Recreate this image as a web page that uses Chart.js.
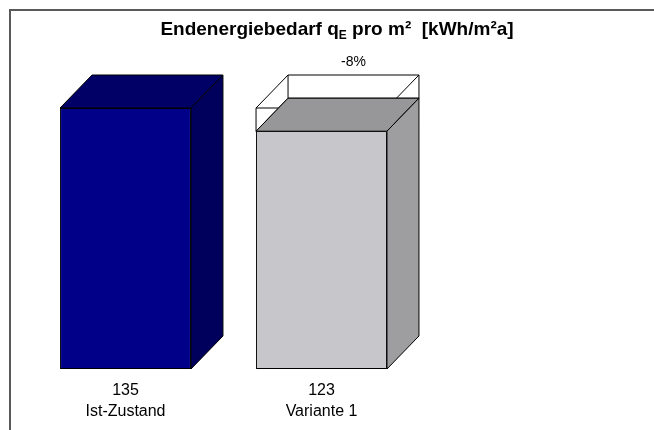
<!DOCTYPE html>
<html>
<head>
<meta charset="utf-8">
<script src="https://cdn.jsdelivr.net/npm/chart.js@4/dist/chart.umd.min.js"></script>
<style>
  body { margin: 0; background: #fff; }
  #wrap { position: relative; width: 654px; height: 430px; overflow: hidden; }
  #frame { position: absolute; left: 9px; top: 9px; width: 700px; height: 500px;
           border-left: 2px solid #595959; border-top: 2px solid #595959; }
  canvas { position: absolute; left: 0; top: 0; }
</style>
</head>
<body>
<div id="wrap">
  <div id="frame"></div>
  <canvas id="energyChart" width="654" height="430"></canvas>
</div>
<script>
// Daten
const categories = ['Ist-Zustand', 'Variante 1'];
const demandValues = [135, 123];
const savingValues = [0, 12];      // Differenz zum Ist-Zustand, nur als Umriss
const changeLabels = ['', '-8%'];

const frontColors = ['#000088', '#c7c6ca'];
const topColors = ['#000066', '#979698'];
const sideColors = ['#00005c', '#9e9da0'];

// Tiefe der 3D-Saeulen
const DX = 32;
const DY = 33;
const FONT = '"Liberation Sans", Arial, sans-serif';

function poly(c, pts, fill) {
    c.beginPath();
    c.moveTo(pts[0][0], pts[0][1]);
    for (let k = 1; k < pts.length; k++) c.lineTo(pts[k][0], pts[k][1]);
    c.closePath();
    if (fill) { c.fillStyle = fill; c.fill(); }
    c.stroke();
}

const bars3d = {
    id: 'bars3d',
    afterDatasetsDraw(chart) {
        const c = chart.ctx;
        const demand = chart.getDatasetMeta(0).data;
        const ghost = chart.getDatasetMeta(1).data;
        c.save();
        c.lineWidth = 1;
        c.strokeStyle = '#000';

        // Umriss der Einsparung (Drahtgitter)
        ghost.forEach((el, i) => {
            if (!savingValues[i]) return;
            const l = el.x - el.width / 2, r = el.x + el.width / 2;
            const t = el.y, b = el.base;
            c.beginPath();
            c.rect(l, t, r - l, b - t);
            c.rect(l + DX, t - DY, r - l, b - t);
            [[l, t], [r, t], [l, b], [r, b]].forEach(p => {
                c.moveTo(p[0], p[1]);
                c.lineTo(p[0] + DX, p[1] - DY);
            });
            c.stroke();
            // Prozentangabe ueber der Saeule
            c.fillStyle = '#000';
            c.font = '14px ' + FONT;
            c.textAlign = 'center';
            c.textBaseline = 'middle';
            c.fillText(changeLabels[i], el.x + DX, t - DY - 13);
        });

        // Deckflaeche und Seitenflaeche
        demand.forEach((el, i) => {
            const l = el.x - el.width / 2, r = el.x + el.width / 2;
            const t = el.y, b = el.base;
            poly(c, [[l, t], [l + DX, t - DY], [r + DX, t - DY], [r, t]], topColors[i]);
            poly(c, [[r, t], [r + DX, t - DY], [r + DX, b - DY], [r, b]], sideColors[i]);
            // Beschriftung unter der Saeule
            c.fillStyle = '#000';
            c.font = '16px ' + FONT;
            c.textAlign = 'center';
            c.textBaseline = 'middle';
            c.fillText(String(demandValues[i]), el.x, b + 22);
            c.fillText(categories[i], el.x, b + 43);
        });

        // Titel mit tiefgestelltem E
        const parts = [
            { t: 'Endenergiebedarf q', f: 'bold 19px ' + FONT, dy: 0 },
            { t: 'E', f: 'bold 12px ' + FONT, dy: 4 },
            { t: ' pro m\u00b2  [kWh/m\u00b2a]', f: 'bold 19px ' + FONT, dy: 0 }
        ];
        let total = 0;
        parts.forEach(p => { c.font = p.f; p.w = c.measureText(p.t).width; total += p.w; });
        let x = 337 - total / 2;
        c.textAlign = 'left';
        c.textBaseline = 'alphabetic';
        parts.forEach(p => {
            c.font = p.f;
            c.fillText(p.t, x, 35 + p.dy);
            x += p.w;
        });
        c.restore();
    }
};

const ctx = document.getElementById('energyChart').getContext('2d');
const energyChart = new Chart(ctx, {
    type: 'bar',
    data: {
        labels: categories,
        datasets: [{
            data: demandValues,
            backgroundColor: frontColors,
            borderColor: '#000',
            borderWidth: 1,
            borderSkipped: false
        }, {
            data: savingValues,
            backgroundColor: 'rgba(0,0,0,0)',
            borderWidth: 0
        }]
    },
    options: {
        responsive: false,
        animation: false,
        barPercentage: 0.668,
        categoryPercentage: 1,
        layout: { padding: { left: 27.5, right: 234.5, top: 79, bottom: 61 } },
        plugins: { legend: { display: false }, tooltip: { enabled: false } },
        scales: {
            x: { display: false, stacked: true },
            y: { display: false, stacked: true, min: 0, max: 150 }
        }
    },
    plugins: [bars3d]
});
</script>
</body>
</html>
